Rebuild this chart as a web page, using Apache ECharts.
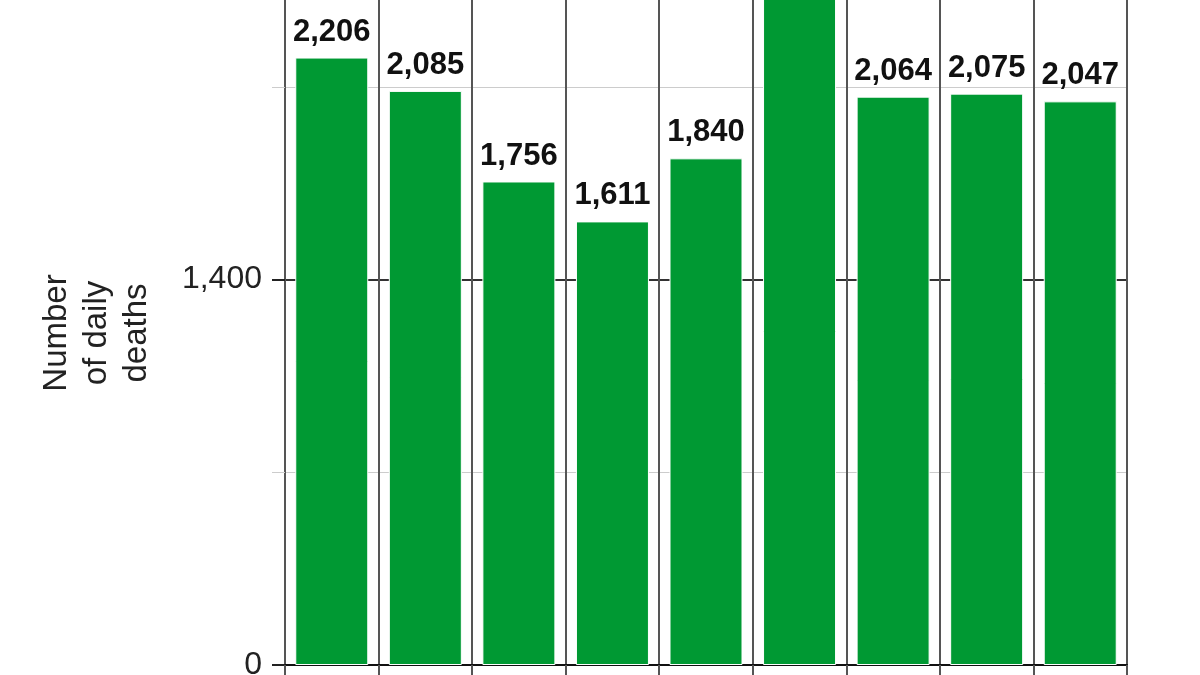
<!DOCTYPE html>
<html>
<head>
<meta charset="utf-8">
<script src="https://cdn.jsdelivr.net/npm/echarts@6/dist/echarts.min.js"></script>
<style>html,body{margin:0;padding:0;background:#fff}#c{width:1200px;height:675px}</style>
</head>
<body>
<div id="c"></div>
<script>
var categories = ['Day 1', 'Day 2', 'Day 3', 'Day 4', 'Day 5', 'Day 6', 'Day 7', 'Day 8', 'Day 9'];
var deaths = [2206, 2085, 1756, 1611, 1840, 2473, 2064, 2075, 2047];
var yTickValues = [0, 1400, 2800];
var yAxisTitle = 'Number\nof daily\ndeaths';

var fmt = function (v) { return Number(v).toLocaleString('en-US'); };
var chart = echarts.init(document.getElementById('c'), null, { renderer: 'canvas' });
chart.setOption({
  animation: false,
  backgroundColor: '#ffffff',
  textStyle: { fontFamily: 'Liberation Sans, Arial, sans-serif' },
  grid: { left: 285, right: 73, top: -106, bottom: 10, containLabel: false, outerBoundsMode: 'none' },
  xAxis: {
    type: 'category',
    data: categories,
    boundaryGap: true,
    axisLine: { show: true, lineStyle: { color: '#111', width: 2 } },
    axisTick: { show: true, length: 12, lineStyle: { color: '#555', width: 2 } },
    splitLine: { show: true, lineStyle: { color: '#555', width: 2 } },
    axisLabel: { show: false }
  },
  yAxis: [
    {
      type: 'value', min: 0, max: 2800, interval: 700, position: 'left',
      axisLine: { show: false },
      axisTick: { show: true, length: 13, lineStyle: { color: '#cccccc', width: 1 } },
      axisLabel: { show: false },
      splitLine: { show: true, lineStyle: { color: '#cccccc', width: 1 } }
    },
    {
      type: 'value', min: yTickValues[0], max: yTickValues[yTickValues.length - 1], interval: 1400, position: 'left',
      axisLine: { show: false },
      axisTick: { show: true, length: 13, lineStyle: { color: '#222', width: 2 } },
      axisLabel: { show: true, margin: 23, fontSize: 32, color: '#222', formatter: fmt },
      splitLine: { show: true, lineStyle: { color: '#333', width: 2 } }
    }
  ],
  graphic: [{
    type: 'text',
    x: 97, y: 333,
    rotation: Math.PI / 2,
    style: {
      text: yAxisTitle,
      fontSize: 33,
      lineHeight: 40,
      fontFamily: 'Liberation Sans, Arial, sans-serif',
      fill: '#222',
      align: 'center',
      verticalAlign: 'middle'
    }
  }],
  series: [{
    type: 'bar',
    yAxisIndex: 0,
    data: deaths,
    barWidth: 73,
    clip: false,
    z: 3,
    itemStyle: { color: '#009933', borderColor: '#ffffff', borderWidth: 1 },
    label: {
      show: true, position: 'top', distance: 10,
      fontSize: 31, fontWeight: 'bold', color: '#111',
      formatter: function (p) { return fmt(p.value); }
    }
  }]
});
</script>
</body>
</html>
